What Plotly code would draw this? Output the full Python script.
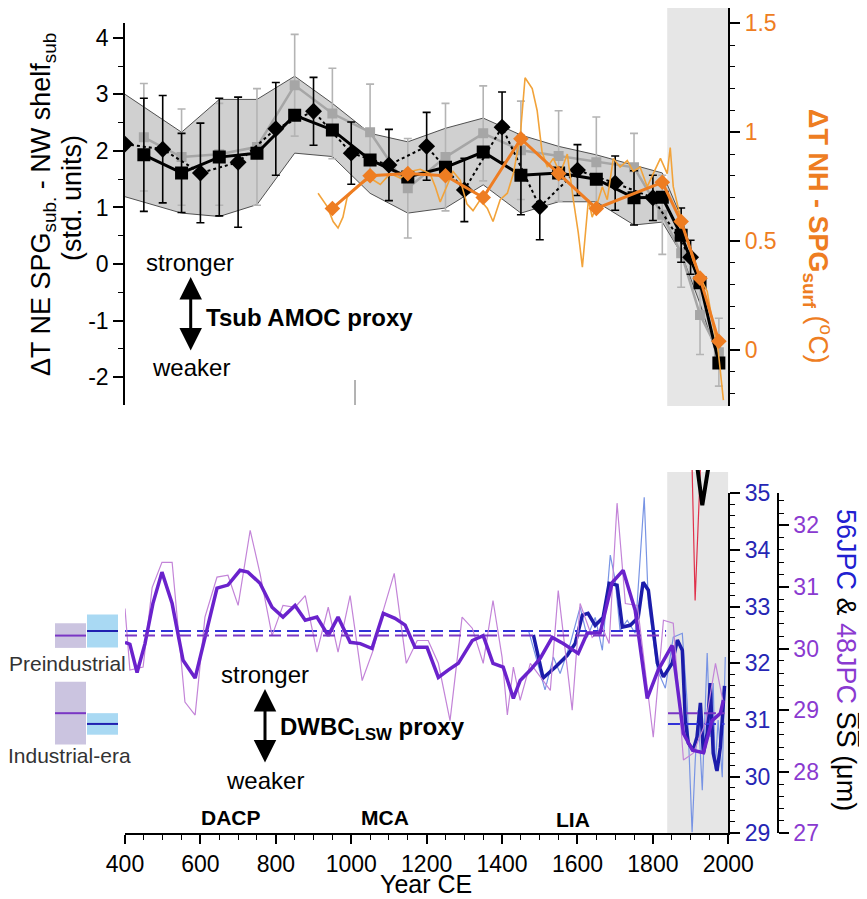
import plotly.graph_objects as go

# the page has an 8 px body margin: lay the canvas out so that page pixels match the reference
OFF = 8
W, H = 867 - OFF, 899 - OFF
def px(x):
    return (x - OFF) / W
def py(y):
    return 1 - (y - OFF) / H

FONT = "Liberation Sans, Arial, sans-serif"
ORANGE = "#ee7d22"
ORANGE_THIN = "#f2a33a"
BLUE_LAB = "#2626b4"
PURPLE_LAB = "#8a3ad0"

# ---------------- top panel data ----------------
SQ_YEAR = [450, 550, 650, 750, 850, 950, 1050, 1150, 1250, 1350, 1450, 1550, 1650, 1750, 1825, 1875, 1925, 1975]
BLACK_SQ = [1.93, 1.61, 1.89, 1.96, 2.63, 2.37, 1.84, 1.54, 1.71, 1.98, 1.57, 1.61, 1.50, 1.17, 1.18, 0.51, -0.33, -1.75]
BLACK_SQ_ERR = [1.0, 0.7, 1.04, 0, 0, 0, 0, 0, 0, 0, 0.7, 0, 0, 0.48, 0, 0.48, 0, 0]
GRAY_SQ = [2.24, 1.89, 1.94, 2.07, 3.16, 2.66, 2.33, 1.34, 1.89, 2.31, 2.01, 1.91, 1.80, 1.71, 0.87, 0.19, -0.90, -1.56]
GRAY_SQ_ERR = [0.95, 0.85, 0.9, 1.03, 0.9, 0.8, 0.85, 0.88, 0.95, 0.84, 0.87, 0.8, 0.8, 0.6, 0.7, 0.6, 0.7, 0.6]

DIA_YEAR = [400, 500, 600, 700, 800, 900, 1000, 1100, 1200, 1300, 1400, 1500, 1600, 1700, 1800, 1900]
BLACK_DIA = [2.12, 2.03, 1.61, 1.80, 2.39, 2.70, 1.96, 1.75, 2.08, 1.31, 2.42, 1.01, 1.66, 1.43, 1.17, 0.12]
BLACK_DIA_ERR = [0, 0.95, 0.88, 1.15, 0.82, 0.6, 0.55, 0.63, 0.6, 0.56, 0.62, 0.58, 0.45, 0.48, 0.4, 0.3]

BAND_YEAR = [400, 550, 650, 750, 850, 950, 1050, 1150, 1250, 1350, 1450, 1550, 1650, 1750, 1825, 1875, 1925, 1980]
BAND_HI = [3.0, 2.33, 2.91, 2.91, 3.32, 2.84, 2.31, 2.16, 2.40, 2.58, 2.28, 2.08, 1.93, 1.75, 1.61, 0.83, -0.23, -1.52]
BAND_LO = [1.19, 0.9, 0.84, 1.05, 1.96, 1.9, 1.25, 0.9, 0.99, 1.4, 0.9, 1.10, 1.10, 0.69, 0.74, 0.19, -0.70, -1.85]

OR_DIA_YEAR = [950, 1050, 1150, 1250, 1350, 1450, 1550, 1650, 1825, 1875, 1925, 1975]
OR_DIA = [0.65, 0.80, 0.81, 0.80, 0.70, 0.97, 0.81, 0.65, 0.77, 0.59, 0.33, 0.04]

OR_YEAR = [912, 936, 952, 965, 978, 989, 1005, 1024, 1050, 1077, 1103, 1130, 1156, 1183, 1209, 1223,
           1236, 1254, 1270, 1289, 1307, 1323, 1342, 1361, 1376, 1395, 1414, 1430, 1448, 1461, 1480,
           1493, 1506, 1520, 1536, 1554, 1573, 1589, 1602, 1613, 1621, 1629, 1639, 1652, 1666, 1679,
           1695, 1713, 1732, 1748, 1766, 1785, 1801, 1820, 1838, 1846, 1854, 1873, 1891, 1907, 1926,
           1944, 1960, 1973, 1987]
OR_VAL = [0.72, 0.66, 0.59, 0.56, 0.61, 0.70, 0.73, 0.76, 0.79, 0.76, 0.81, 0.79, 0.82, 0.83, 0.81, 0.75,
          0.68, 0.75, 0.82, 0.78, 0.67, 0.64, 0.69, 0.65, 0.59, 0.69, 0.72, 0.81, 0.98, 1.25, 1.20,
          1.10, 0.91, 0.84, 0.88, 0.81, 0.90, 0.69, 0.54, 0.38, 0.54, 0.69, 0.61, 0.67, 0.75, 0.69,
          0.88, 0.84, 0.87, 0.82, 0.84, 0.75, 0.81, 0.88, 0.81, 0.93, 0.75, 0.61, 0.50, 0.41, 0.33,
          0.27, 0.11, 0.0, -0.23]

STRAY_YEAR = [1010, 1010]
STRAY_VAL = [-2.05, -2.6]

# ---------------- bottom panel data ----------------
PUR_THICK_YEAR = [400, 413, 432, 453, 474, 498, 525, 554, 586, 618, 644, 673, 705, 726, 758, 790, 819, 851,
                  878, 909, 939, 965, 997, 1024, 1055, 1085, 1116, 1143, 1169, 1201, 1231, 1257, 1284,
                  1321, 1350, 1376, 1403, 1430, 1448, 1475, 1501, 1533, 1562, 1602, 1626, 1660, 1692,
                  1721, 1753, 1785, 1814, 1851, 1881, 1905, 1934, 1957, 1979, 1987]
PUR_THICK = [30.10, 30.07, 29.61, 30.08, 30.73, 31.24, 30.73, 29.81, 29.52, 30.30, 30.98, 31.03, 31.27, 31.24,
             31.06, 30.67, 30.51, 30.70, 30.46, 30.51, 30.21, 30.51, 30.10, 30.08, 30.00, 30.57, 30.49,
             30.38, 30.02, 30.02, 29.53, 29.65, 29.76, 30.13, 30.21, 29.76, 29.70, 29.19, 29.48, 29.65,
             29.84, 30.18, 30.08, 29.92, 30.25, 30.25, 31.07, 31.27, 30.62, 29.19, 29.65, 30.05, 28.62,
             28.35, 28.31, 28.83, 28.95, 29.16]

PUR_THIN_YEAR = [400, 413, 448, 472, 498, 525, 559, 586, 612, 644, 673, 700, 732, 758, 790, 819, 851, 878,
                 909, 939, 965, 997, 1029, 1058, 1085, 1114, 1146, 1175, 1204, 1231, 1262, 1294, 1321,
                 1350, 1376, 1400, 1414, 1430, 1448, 1475, 1528, 1549, 1586, 1607, 1639, 1666, 1684,
                 1705, 1727, 1759, 1801, 1828, 1854, 1881, 1907, 1940, 1966, 1987]
PUR_THIN = [30.65, 29.65, 29.70, 30.99, 31.40, 31.40, 29.13, 28.92, 30.51, 31.16, 31.19, 30.70, 31.92, 31.22,
            30.21, 30.70, 30.67, 30.86, 29.94, 30.67, 29.94, 30.86, 29.48, 29.97, 30.62, 31.22, 29.76,
            30.13, 30.13, 29.76, 28.83, 30.51, 30.33, 29.76, 30.78, 29.86, 28.92, 29.70, 29.16, 29.76,
            29.32, 30.94, 29.00, 30.73, 30.18, 30.34, 30.08, 32.36, 30.73, 30.70, 28.56, 30.46, 30.41,
            28.19, 28.30, 28.80, 29.76, 29.11]

BLU_THICK_YEAR = [1483, 1509, 1541, 1573, 1594, 1613, 1628, 1647, 1668, 1684, 1705, 1719, 1740, 1761, 1774,
                  1788, 1812, 1828, 1851, 1865, 1878, 1886, 1894, 1907, 1917, 1926, 1934, 1944, 1952,
                  1960, 1970, 1979, 1990]
BLU_THICK = [32.50, 31.74, 31.93, 32.14, 32.35, 32.85, 32.88, 32.67, 32.81, 33.41, 33.38, 32.64, 32.67, 32.81,
             33.43, 33.29, 32.00, 31.76, 32.00, 32.41, 32.23, 31.00, 30.59, 30.47, 30.70, 31.30, 30.41,
             30.77, 31.65, 30.41, 30.10, 30.52, 31.60]

BLU_THIN_YEAR = [1470, 1514, 1536, 1554, 1581, 1607, 1626, 1647, 1666, 1687, 1700, 1713, 1732, 1753, 1777,
                 1788, 1812, 1833, 1854, 1878, 1891, 1904, 1912, 1920, 1931, 1939, 1944, 1952, 1960,
                 1965, 1973, 1984, 1992]
BLU_THIN = [32.58, 31.53, 32.11, 31.82, 32.35, 32.99, 32.46, 32.81, 32.23, 33.91, 33.47, 32.58, 32.76, 32.53,
            34.93, 33.06, 31.88, 31.56, 32.46, 32.53, 31.30, 29.02, 30.24, 31.17, 29.76, 31.30, 32.18,
            30.70, 31.65, 30.12, 31.00, 29.99, 32.11]

# period means (dashed lines) and spread boxes
PRE_SPAN = [400, 1835]
IND_SPAN = [1840, 1990]
PRE_BLU, PRE_BLU_SD = 32.57, 0.29
PRE_PUR, PRE_PUR_SD = 30.21, 0.20
IND_BLU, IND_BLU_SD = 30.93, 0.19
IND_PUR, IND_PUR_SD = 28.95, 0.51

# stray marks from the panel above
RED_YEAR = [1904, 1912, 1926]
RED_VAL = [35.45, 33.11, 35.45]
BLK_V_YEAR = [1918, 1931, 1947]
BLK_V_VAL = [35.45, 34.79, 35.45]

SHADE = [1838, 2000]
DASH = "12px,6px"

fig = go.Figure()

# ---- top panel ----
fig.add_trace(go.Scatter(x=BAND_YEAR, y=BAND_LO, xaxis="x2", yaxis="y", mode="lines",
                         line=dict(color="#505050", width=1)))
fig.add_trace(go.Scatter(x=BAND_YEAR, y=BAND_HI, xaxis="x2", yaxis="y", mode="lines",
                         line=dict(color="#505050", width=1), fill="tonexty", fillcolor="rgba(200,200,200,0.85)"))
fig.add_trace(go.Scatter(x=SQ_YEAR, y=GRAY_SQ, xaxis="x2", yaxis="y", mode="lines+markers",
                         line=dict(color="#a6a6a6", width=2.5),
                         marker=dict(symbol="square", size=10, color="#a6a6a6"),
                         error_y=dict(type="data", array=GRAY_SQ_ERR, color="#b4b4b4", thickness=1.6, width=4)))
fig.add_trace(go.Scatter(x=DIA_YEAR, y=BLACK_DIA, xaxis="x2", yaxis="y", mode="lines+markers",
                         line=dict(color="black", width=2, dash="dot"),
                         marker=dict(symbol="diamond", size=13, color="black"),
                         error_y=dict(type="data", array=BLACK_DIA_ERR, color="black", thickness=1.6, width=4)))
fig.add_trace(go.Scatter(x=SQ_YEAR, y=BLACK_SQ, xaxis="x2", yaxis="y", mode="lines+markers",
                         line=dict(color="black", width=3),
                         marker=dict(symbol="square", size=13, color="black"),
                         error_y=dict(type="data", array=BLACK_SQ_ERR, color="black", thickness=1.6, width=4)))
fig.add_trace(go.Scatter(x=STRAY_YEAR, y=STRAY_VAL, xaxis="x2", yaxis="y", mode="lines",
                         line=dict(color="#9a9a9a", width=1.5)))
fig.add_trace(go.Scatter(x=OR_YEAR, y=OR_VAL, xaxis="x2", yaxis="y2", mode="lines",
                         line=dict(color=ORANGE_THIN, width=1.6)))
fig.add_trace(go.Scatter(x=OR_DIA_YEAR, y=OR_DIA, xaxis="x2", yaxis="y2", mode="lines+markers",
                         line=dict(color=ORANGE, width=3),
                         marker=dict(symbol="diamond", size=12, color=ORANGE)))

# ---- bottom panel ----
fig.add_trace(go.Scatter(x=BLU_THIN_YEAR, y=BLU_THIN, xaxis="x", yaxis="y3", mode="lines",
                         line=dict(color="#7894e4", width=1.2)))
fig.add_trace(go.Scatter(x=BLU_THICK_YEAR, y=BLU_THICK, xaxis="x", yaxis="y3", mode="lines",
                         line=dict(color="#1c1caa", width=3.5)))
fig.add_trace(go.Scatter(x=PRE_SPAN, y=[PRE_BLU, PRE_BLU], xaxis="x", yaxis="y3", mode="lines",
                         line=dict(color="#3232d8", width=2, dash=DASH)))
fig.add_trace(go.Scatter(x=IND_SPAN, y=[IND_BLU, IND_BLU], xaxis="x", yaxis="y3", mode="lines",
                         line=dict(color="#3232d8", width=2, dash=DASH)))
fig.add_trace(go.Scatter(x=PUR_THIN_YEAR, y=PUR_THIN, xaxis="x", yaxis="y4", mode="lines",
                         line=dict(color="#c384d8", width=1.2)))
fig.add_trace(go.Scatter(x=PUR_THICK_YEAR, y=PUR_THICK, xaxis="x", yaxis="y4", mode="lines",
                         line=dict(color="#6a22cc", width=3.5)))
fig.add_trace(go.Scatter(x=PRE_SPAN, y=[PRE_PUR, PRE_PUR], xaxis="x", yaxis="y4", mode="lines",
                         line=dict(color="#7a36c4", width=2, dash=DASH)))
fig.add_trace(go.Scatter(x=IND_SPAN, y=[IND_PUR, IND_PUR], xaxis="x", yaxis="y4", mode="lines",
                         line=dict(color="#7a36c4", width=2, dash=DASH)))
fig.add_trace(go.Scatter(x=RED_YEAR, y=RED_VAL, xaxis="x", yaxis="y5", mode="lines",
                         line=dict(color="#e0304a", width=1.2)))
fig.add_trace(go.Scatter(x=BLK_V_YEAR, y=BLK_V_VAL, xaxis="x", yaxis="y5", mode="lines",
                         line=dict(color="black", width=4)))

shapes = [
    dict(type="rect", xref="x2", yref="paper", x0=SHADE[0], x1=SHADE[1], y0=py(406), y1=1,
         fillcolor="#e6e6e6", line=dict(width=0), layer="below"),
    dict(type="rect", xref="x", yref="paper", x0=SHADE[0], x1=SHADE[1], y0=py(833.3), y1=py(472),
         fillcolor="#e6e6e6", line=dict(width=0), layer="below"),
]
# spread boxes on the left of the bottom panel
for mean, sd, yref, x0, x1, fc, lc in [
    (PRE_PUR, PRE_PUR_SD, "y4", 55, 86, "#cbc4e0", "#7a36c4"),
    (PRE_BLU, PRE_BLU_SD, "y3", 87, 118, "#a9d9f3", "#2020b0"),
    (IND_PUR, IND_PUR_SD, "y4", 55, 86, "#cbc4e0", "#7a36c4"),
    (IND_BLU, IND_BLU_SD, "y3", 87, 118, "#a9d9f3", "#2020b0"),
]:
    shapes.append(dict(type="rect", xref="paper", yref=yref, x0=px(x0), x1=px(x1),
                       y0=mean - sd, y1=mean + sd, fillcolor=fc, line=dict(width=0)))
    shapes.append(dict(type="line", xref="paper", yref=yref, x0=px(x0), x1=px(x1),
                       y0=mean, y1=mean, line=dict(color=lc, width=2)))

ann = []
def text(x, y, t, size=23, color="black", angle=0, xanchor="center", yanchor="middle"):
    ann.append(dict(xref="paper", yref="paper", x=px(x), y=py(y), text=t, showarrow=False,
                    textangle=angle, xanchor=xanchor, yanchor=yanchor,
                    font=dict(family=FONT, size=size, color=color)))

def darrow(x, y_top, y_bot):
    ann.append(dict(xref="paper", yref="paper", x=px(x), y=py(y_top), ax=0, ay=y_bot - y_top,
                    text="", showarrow=True, arrowhead=2, arrowside="end+start",
                    arrowsize=1.5, arrowwidth=3, arrowcolor="black"))

text(43, 205, "ΔT NE SPG<sub>sub.</sub> - NW shelf<sub>sub</sub>", size=27, angle=-90)
text(72, 198, "(std. units)", size=27, angle=-90)
text(818, 236, "<b>ΔT NH - SPG<sub>surf</sub></b> (<sup>o</sup>C)", size=27, color=ORANGE, angle=90)
text(846, 660, "<span style='color:#2020d0'>56JPC</span> & <span style='color:#8a3ad0'>48JPC</span>"
     " S\u0305S\u0305 (μm)", size=27, angle=90)
text(426, 884, "Year CE", size=25)

text(190, 262, "stronger", size=24)
darrow(190.7, 277, 352)
text(204, 317, "<b>Tsub AMOC proxy</b>", size=24, xanchor="left")
text(191, 367, "weaker", size=24)

text(265, 674, "stronger", size=24)
darrow(265, 689, 764)
text(278, 728, "<b>DWBC<sub>LSW</sub> proxy</b>", size=24, xanchor="left")
text(265, 780, "weaker", size=24)

text(231, 817, "<b>DACP</b>", size=21)
text(385, 817, "<b>MCA</b>", size=21)
text(573, 819, "<b>LIA</b>", size=21)

text(67, 663, "Preindustrial", size=21, color="#333333")
text(69, 755, "Industrial-era", size=21, color="#333333")

tick_font = dict(family=FONT, size=23, color="black")
X_TICKS = list(range(400, 2001, 200))
LEFT_TICKS = [-2, -1, 0, 1, 2, 3, 4]
OR_TICKS = [0, 0.5, 1, 1.5]

fig.update_layout(
    width=W, height=H, margin=dict(l=0, r=0, t=0, b=0, autoexpand=False),
    paper_bgcolor="white", plot_bgcolor="rgba(0,0,0,0)",
    showlegend=False, font=dict(family=FONT),
    shapes=shapes, annotations=ann,
    xaxis=dict(domain=[px(125), px(728.3)], range=[400, 2000], anchor="y3", automargin=False,
               tickmode="array", tickvals=X_TICKS, ticktext=[str(v) for v in X_TICKS],
               ticks="outside", ticklen=9, tickwidth=1.5, tickcolor="black",
               minor=dict(tickmode="linear", tick0=400, dtick=50, ticks="outside", ticklen=5,
                          tickwidth=1.3, tickcolor="black"),
               showline=True, linecolor="black", linewidth=1.5, showgrid=False, zeroline=False,
               tickfont=tick_font),
    xaxis2=dict(domain=[px(125), px(728.3)], range=[400, 2000], anchor="y", visible=False,
                automargin=False),
    yaxis=dict(domain=[py(405), py(23)], range=[-2.493, 4.261], anchor="x2", side="left",
               automargin=False,
               tickmode="array", tickvals=LEFT_TICKS, ticktext=[str(v) for v in LEFT_TICKS],
               ticks="outside", ticklen=10, tickwidth=1.5, tickcolor="black",
               minor=dict(tickmode="linear", tick0=0, dtick=0.5, ticks="outside", ticklen=5,
                          tickwidth=1.3, tickcolor="black"),
               showline=True, linecolor="black", linewidth=1.5, showgrid=False, zeroline=False,
               tickfont=tick_font),
    yaxis2=dict(domain=[py(406), 1], range=[-0.257, 1.575 - 1.0 / 217.8], anchor="x2", side="right",
                automargin=False,
                tickmode="array", tickvals=OR_TICKS, ticktext=["0", "0.5", "1", "1.5"],
                ticks="outside", ticklen=10, tickwidth=1.5, tickcolor="black",
                minor=dict(tickmode="linear", tick0=0, dtick=0.1, ticks="outside", ticklen=5,
                           tickwidth=1.3, tickcolor="black"),
                showline=True, linecolor="black", linewidth=1.5, showgrid=False, zeroline=False,
                tickfont=dict(family=FONT, size=23, color=ORANGE)),
    yaxis3=dict(domain=[py(833.3), py(493.3)], range=[29, 35], anchor="x", side="right",
                automargin=False,
                tickmode="linear", tick0=29, dtick=1,
                ticks="outside", ticklen=10, tickwidth=1.5, tickcolor="black",
                minor=dict(tickmode="linear", tick0=29, dtick=0.2, ticks="outside", ticklen=5,
                           tickwidth=1.3, tickcolor="black"),
                showline=True, linecolor="black", linewidth=1.5, showgrid=False, zeroline=False,
                tickfont=dict(family=FONT, size=23, color=BLUE_LAB)),
    yaxis4=dict(overlaying="y3", range=[27, 32.52], anchor="free", position=px(778), side="right",
                automargin=False,
                tickmode="linear", tick0=27, dtick=1,
                ticks="outside", ticklen=10, tickwidth=1.5, tickcolor="black",
                minor=dict(tickmode="linear", tick0=27, dtick=0.2, ticks="outside", ticklen=5,
                           tickwidth=1.3, tickcolor="black"),
                showline=True, linecolor="black", linewidth=1.5, showgrid=False, zeroline=False,
                tickfont=dict(family=FONT, size=23, color=PURPLE_LAB)),
    yaxis5=dict(domain=[py(833.3), py(470)], range=[29, 35 + (493.3 - 470) / 56.67], anchor="x",
                visible=False, automargin=False),
)

fig.write_html("out.html")
